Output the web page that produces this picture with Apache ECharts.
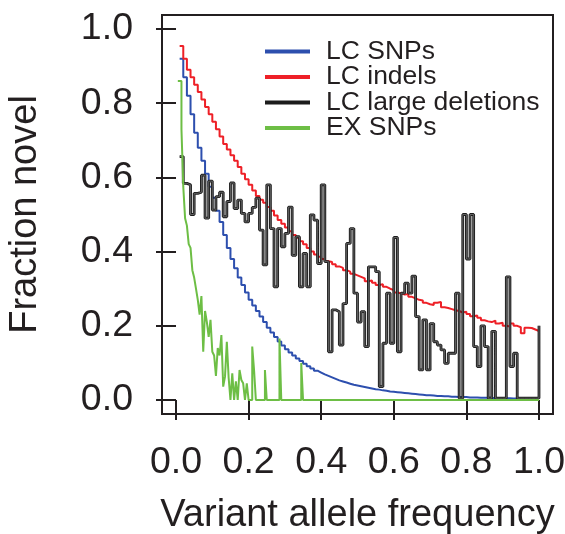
<!DOCTYPE html>
<html lang="en">
<head>
<meta charset="UTF-8">
<title>Fraction novel</title>
<style>
  html, body { margin: 0; background: #fff; }
  #chart { width: 565px; height: 534px; }
</style>
</head>
<body>
<div id="chart"></div>
<script src="https://cdn.jsdelivr.net/npm/echarts@6/dist/echarts.min.js"></script>
<script>
// bins are 0.01 wide, first bin at 0.01
var binStep = 0.01;
var tickValues = [0, 0.2, 0.4, 0.6, 0.8, 1.0];

var lcSnps = [
  0.92, 0.87, 0.82, 0.77, 0.72, 0.68, 0.645, 0.61, 0.575, 0.545,
  0.51, 0.48, 0.445, 0.41, 0.38, 0.355, 0.33, 0.31, 0.29, 0.27,
  0.255, 0.24, 0.225, 0.21, 0.195, 0.182, 0.17, 0.158, 0.147, 0.137,
  0.128, 0.12, 0.112, 0.105, 0.098, 0.091, 0.085, 0.079, 0.074, 0.069,
  0.065, 0.061, 0.057, 0.053, 0.05, 0.047, 0.044, 0.041, 0.039, 0.037,
  0.035, 0.033, 0.031, 0.029, 0.028, 0.026, 0.025, 0.023, 0.022, 0.021,
  0.02, 0.019, 0.018, 0.017, 0.016, 0.015, 0.014, 0.013, 0.013, 0.012,
  0.011, 0.011, 0.01, 0.01, 0.009, 0.009, 0.008, 0.008, 0.008, 0.007,
  0.007, 0.007, 0.006, 0.006, 0.006, 0.006, 0.005, 0.005, 0.005, 0.005,
  0.005, 0.004, 0.004, 0.004, 0.004, 0.004, 0.004, 0.004, 0.004, 0.004
];

var lcIndels = [
  0.954, 0.92, 0.89, 0.87, 0.85, 0.83, 0.81, 0.79, 0.77, 0.75,
  0.73, 0.71, 0.69, 0.675, 0.66, 0.645, 0.628, 0.61, 0.595, 0.58,
  0.565, 0.55, 0.54, 0.532, 0.52, 0.51, 0.497, 0.485, 0.475, 0.465,
  0.455, 0.445, 0.437, 0.428, 0.42, 0.41, 0.4, 0.392, 0.386, 0.38,
  0.374, 0.372, 0.366, 0.36, 0.356, 0.35, 0.346, 0.34, 0.336, 0.332,
  0.328, 0.32, 0.322, 0.316, 0.31, 0.312, 0.305, 0.3, 0.296, 0.29,
  0.288, 0.284, 0.286, 0.278, 0.274, 0.27, 0.268, 0.262, 0.258, 0.256,
  0.262, 0.264, 0.25, 0.248, 0.245, 0.242, 0.24, 0.236, 0.238, 0.232,
  0.226, 0.228, 0.222, 0.215, 0.212, 0.21, 0.214, 0.206, 0.208, 0.2,
  0.198, 0.206, 0.2, 0.196, 0.18, 0.195, 0.194, 0.19, 0.186, 0.182
];

var lcLargeDel = [
  0.656, 0.584, 0.58, 0.5, 0.557, 0.56, 0.606, 0.49, 0.59, 0.512,
  0.548, 0.56, 0.494, 0.535, 0.585, 0.516, 0.539, 0.503, 0.48, 0.503,
  0.519, 0.544, 0.458, 0.364, 0.58, 0.462, 0.305, 0.462, 0.413, 0.449,
  0.52, 0.39, 0.44, 0.305, 0.395, 0.305, 0.499, 0.485, 0.368, 0.58,
  0.373, 0.13, 0.243, 0.238, 0.148, 0.26, 0.422, 0.462, 0.288, 0.21,
  0.238, 0.144, 0.359, 0.359, 0.346, 0.036, 0.153, 0.288, 0.153, 0.438,
  0.13, 0.288, 0.315, 0.288, 0.334, 0.225, 0.081, 0.216, 0.081, 0.206,
  0.157, 0.148, 0.135, 0.099, 0.126, 0.126, 0.288, 0.005, 0.5, 0.38,
  0.5, 0.144, 0.09, 0.2, 0.144, 0.005, 0.185, 0.005, 0.005, 0.005,
  0.332, 0.09, 0.126, 0.005, 0.005, 0.005, 0.005, 0.005, 0.005, 0.2
];

// EX SNPs uses finer, irregular bins
var exSnpsX = [
  0.005, 0.01, 0.015, 0.02, 0.025, 0.03, 0.035, 0.04, 0.045, 0.05,
  0.055, 0.06, 0.065, 0.07, 0.075, 0.08, 0.085, 0.09, 0.095, 0.1,
  0.105, 0.11, 0.115, 0.12, 0.125, 0.13, 0.135, 0.14, 0.145, 0.15,
  0.155, 0.16, 0.165, 0.17, 0.175, 0.18, 0.185, 0.19, 0.195, 0.2,
  0.205, 0.21, 0.215, 0.22, 0.245, 0.25, 0.285, 0.29, 0.345, 0.35, 1.0
];
var exSnpsY = [
  0.86, 0.86, 0.73, 0.575, 0.49, 0.47, 0.42, 0.41, 0.35, 0.33,
  0.3, 0.27, 0.23, 0.28, 0.13, 0.24, 0.21, 0.17, 0.216, 0.13,
  0.12, 0.065, 0.14, 0.12, 0.175, 0.036, 0.063, 0.157, 0.06, 0,
  0.072, 0, 0.05, 0, 0.081, 0.054, 0.045, 0, 0.045, 0,
  0, 0.144, 0.081, 0, 0.081, 0, 0.166, 0, 0.1, 0, 0
];

var seriesNames = ['LC SNPs', 'LC indels', 'LC large deletions', 'EX SNPs'];
var seriesColors = ['#2d4fae', '#ee2027', '#1c1c1c', '#6dbe45'];

function binned(ys) {
  return ys.map(function (y, i) { return [+(binStep * (i + 1)).toFixed(3), y]; });
}
function paired(xs, ys) {
  return xs.map(function (x, i) { return [x, ys[i]]; });
}

var font = 'Liberation Sans, Arial, Helvetica, sans-serif';
var ink = '#231f20';

var chart = echarts.init(document.getElementById('chart'));
var option = {
  animation: false,
  backgroundColor: '#fff',
  grid: {
    left: 162, right: 12, top: 15, bottom: 120,
    outerBoundsMode: 'none', containLabel: false,
    show: true, borderColor: ink, borderWidth: 2, backgroundColor: 'transparent'
  },
  legend: {
    data: seriesNames,
    orient: 'vertical',
    left: 265, top: 38, padding: 0,
    itemWidth: 45, itemHeight: 4, itemGap: -1.5,
    icon: 'rect',
    textStyle: { fontFamily: font, fontSize: 26.5, color: ink, padding: [0, 0, 0, 11] }
  },
  xAxis: {
    type: 'value', min: -0.0386, max: 1.0386,
    name: 'Variant allele frequency', nameLocation: 'middle', nameGap: 83,
    nameTextStyle: { fontFamily: font, fontSize: 38, color: ink },
    axisLine: { show: false },
    axisTick: { show: true, customValues: tickValues, length: 20, inside: false, lineStyle: { color: ink, width: 2 } },
    axisLabel: { customValues: tickValues, margin: 30, fontFamily: font, fontSize: 37.5, color: ink,
      formatter: function (v) { return v.toFixed(1); } },
    splitLine: { show: false }
  },
  yAxis: {
    type: 'value', min: -0.0377, max: 1.0377,
    name: 'Fraction novel', nameLocation: 'middle', nameGap: 117, nameRotate: 90,
    nameTextStyle: { fontFamily: font, fontSize: 38, color: ink },
    axisLine: { show: false },
    axisTick: { show: true, customValues: tickValues, length: 20, inside: false, lineStyle: { color: ink, width: 2 } },
    axisLabel: { customValues: tickValues, margin: 29, fontFamily: font, fontSize: 37.5, color: ink,
      formatter: function (v) { return v.toFixed(1); } },
    splitLine: { show: false }
  },
  series: [
    { name: seriesNames[0], type: 'line', step: 'end', symbol: 'none', data: binned(lcSnps),
      color: seriesColors[0], lineStyle: { width: 2 }, z: 2 },
    { name: seriesNames[1], type: 'line', step: 'end', symbol: 'none', data: binned(lcIndels),
      color: seriesColors[1], lineStyle: { width: 2 }, z: 3 },
    { name: seriesNames[2], type: 'line', step: 'end', symbol: 'none', data: binned(lcLargeDel),
      color: seriesColors[2], lineStyle: { width: 2.8 }, z: 4 },
    // faint grey core of the black outline
    { name: 'core', type: 'line', step: 'end', symbol: 'none', data: binned(lcLargeDel),
      color: '#7d7d7d', lineStyle: { width: 0.7 }, z: 5, silent: true },
    { name: seriesNames[3], type: 'line', step: 'end', symbol: 'none', data: paired(exSnpsX, exSnpsY),
      color: seriesColors[3], lineStyle: { width: 2 }, z: 6 }
  ]
};
chart.setOption(option);
</script>
</body>
</html>
